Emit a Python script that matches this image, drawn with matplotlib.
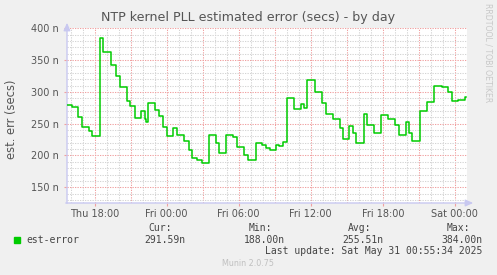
import numpy as np
import matplotlib
matplotlib.use("Agg")
import matplotlib.pyplot as plt

# hours relative to Fri 2025-05-30 00:00, value in nanoseconds (step series)
hours = [-8.28, -7.92, -7.37, -7.03, -6.48, -6.22, -5.60, -5.31, -4.68, -4.20,
         -3.93, -3.31, -3.02, -2.64, -2.14, -1.85, -1.72, -1.56, -0.98, -0.64,
         -0.31, 0.00, 0.55, 0.88, 1.44, 1.86, 2.07, 2.55, 2.94, 3.52,
         4.11, 4.38, 4.94, 5.55, 5.82, 6.44, 6.78, 7.40, 7.97, 8.25,
         8.61, 9.11, 9.38, 9.72, 10.03, 10.61, 11.17, 11.47, 11.72, 12.36,
         12.92, 13.25, 13.83, 14.44, 14.72, 15.22, 15.50, 15.78, 16.44, 16.72,
         17.30, 17.86, 18.47, 19.03, 19.36, 19.92, 20.22, 20.44, 21.11, 21.67,
         22.30, 22.92, 23.47, 23.80, 24.25, 24.86, 24.94]
est_error = [279, 276, 260, 245, 238, 231, 384, 363, 342, 325,
             307, 286, 278, 259, 270, 258, 252, 283, 272, 262,
             245, 231, 244, 232, 223, 209, 196, 193, 188, 233,
             219, 204, 233, 229, 214, 201, 193, 220, 216, 211,
             209, 216, 215, 222, 291, 273, 281, 275, 318, 300,
             282, 266, 258, 243, 226, 246, 235, 219, 265, 248,
             235, 264, 258, 248, 233, 252, 235, 223, 270, 284,
             310, 308, 300, 286, 287, 291.59, 291.59]

tick_hours = [-6, 0, 6, 12, 18, 24]
tick_labels = ["Thu 18:00", "Fri 00:00", "Fri 06:00", "Fri 12:00", "Fri 18:00", "Sat 00:00"]
y_ticks = [150, 200, 250, 300, 350, 400]
y_labels = ["150 n", "200 n", "250 n", "300 n", "350 n", "400 n"]

stats = {"Cur:": "291.59n", "Min:": "188.00n", "Avg:": "255.51n", "Max:": "384.00n"}

W, H = 497, 275
fig = plt.figure(figsize=(W / 100, H / 100), dpi=100, facecolor="#F0F0F0")
x0, x1, y0, y1 = 67, 467, 28.3, 203
ax = fig.add_axes([x0 / W, 1 - y1 / H, (x1 - x0) / W, (y1 - y0) / H])
ax.set_facecolor("white")

ax.plot(hours, est_error, drawstyle="steps-post", color="#00CC00", lw=1.1, zorder=5)
ax.set_xlim(-8.31, 25.02)
ax.set_ylim(125.3, 400)

# grids: minor grey, major red
dots = (0, (1.2, 1.2))
for h in np.arange(-8, 26, 1):
    col = "#F0A0A0" if h % 3 == 0 else "#D4D4D4"
    ax.axvline(h, color=col, lw=0.75, ls=dots, zorder=1)
for v in np.arange(130, 401, 10):
    col = "#F0A0A0" if v % 50 == 0 else "#D4D4D4"
    ax.axhline(v, color=col, lw=0.75, ls=dots, zorder=1)

for s in ax.spines.values():
    s.set_visible(False)

ax.set_xticks(tick_hours)
ax.set_xticklabels(tick_labels)
ax.set_yticks(y_ticks)
ax.set_yticklabels(y_labels)
ax.tick_params(axis="both", length=2, color="#F0A0A0", labelsize=7,
               labelcolor="#555555")
ax.tick_params(axis="x", pad=2.5)
ax.tick_params(axis="y", pad=4)

# axis lines with arrows
axis_col = "#C8C8F0"
ax.annotate("", xy=(x0 / W, 1 - 20 / H), xytext=(x0 / W, 1 - 206 / H),
            xycoords="figure fraction",
            arrowprops=dict(arrowstyle="-|>,head_length=0.45,head_width=0.2",
                            color=axis_col, lw=1))
ax.annotate("", xy=(476 / W, 1 - y1 / H), xytext=(63 / W, 1 - y1 / H),
            xycoords="figure fraction",
            arrowprops=dict(arrowstyle="-|>,head_length=0.45,head_width=0.2",
                            color=axis_col, lw=1))

fig.text(0.5, 1 - 18 / H, "NTP kernel PLL estimated error (secs) - by day",
         ha="center", va="center", fontsize=9.1, color="#555555")
fig.text(12 / W, 1 - 119 / H, "est. err (secs)", rotation=90,
         ha="center", va="center", fontsize=8.3, color="#555555")
fig.text(488 / W, 1 - 53 / H, "RRDTOOL / TOBI OETIKER", rotation=-90,
         ha="center", va="center", fontsize=5.6, color="#C8C8C8")

# legend block
mono = "DejaVu Sans Mono"
fig.patches.append(plt.Rectangle((14 / W, 1 - 243 / H), 6 / W, 6 / H,
                                 transform=fig.transFigure, color="#00CC00"))
fig.text(26 / W, 1 - 240 / H, "est-error", family=mono, fontsize=7,
         va="center", color="#444444")
head_x = [172, 272, 371, 470]
val_x = [185, 284.5, 383.5, 482.5]
for (head, val), hx, vx in zip(stats.items(), head_x, val_x):
    fig.text(hx / W, 1 - 228 / H, head, family=mono, fontsize=7,
             ha="right", va="center", color="#444444")
    fig.text(vx / W, 1 - 240 / H, val, family=mono, fontsize=7,
             ha="right", va="center", color="#444444")
fig.text(482.5 / W, 1 - 251.5 / H, "Last update: Sat May 31 00:55:34 2025",
         family=mono, fontsize=7, ha="right", va="center", color="#444444")
fig.text(248 / W, 1 - 264 / H, "Munin 2.0.75", fontsize=5.8,
         ha="center", va="center", color="#C0C0C0")

fig.savefig("out.png", dpi=100, facecolor=fig.get_facecolor())
